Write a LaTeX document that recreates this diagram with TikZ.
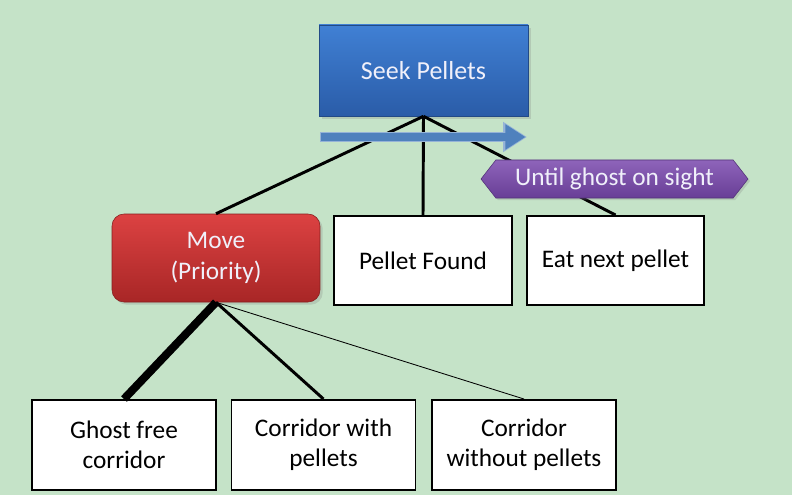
\documentclass[tikz,border=0pt]{standalone}
\usepackage{fontspec}
\setmainfont{Carlito}
\usepackage{tikz}
\usetikzlibrary{arrows.meta, shapes.symbols, shadows}
\definecolor{bgGreen}{RGB}{197,227,200}
\definecolor{seekTop}{RGB}{64,128,212}
\definecolor{seekBot}{RGB}{42,92,168}
\definecolor{moveTop}{RGB}{220,66,66}
\definecolor{moveBot}{RGB}{168,38,38}
\definecolor{untilTop}{RGB}{142,100,186}
\definecolor{untilBot}{RGB}{104,62,150}
\definecolor{arrowBlue}{RGB}{79,129,189}
\definecolor{lightText}{RGB}{240,240,250}
\tikzset{
  leaf/.style={
    rectangle, minimum width=4.6cm, minimum height=2.25cm,
    text centered, align=center, draw=black, line width=1.4pt, fill=white,
    font=\fontsize{18}{21.5}\selectfont
  },
  rootbox/.style={
    rectangle, minimum width=5.225cm, minimum height=2.275cm,
    text centered, draw=seekBot!80!black, line width=0.4pt,
    top color=seekTop, bottom color=seekBot, text=lightText,
    font=\fontsize{18.5}{22}\selectfont,
    drop shadow={shadow xshift=0.4ex,shadow yshift=-0.4ex,opacity=0.25}
  },
  prio/.style={
    rectangle, rounded corners=0.3cm, minimum width=5.2cm, minimum height=2.2cm,
    text centered, align=center, draw=moveBot!80!black, line width=0.4pt,
    top color=moveTop, bottom color=moveBot, text=lightText,
    font=\fontsize{18}{22}\selectfont,
    drop shadow={shadow xshift=0.4ex,shadow yshift=-0.4ex,opacity=0.25}
  },
  cond/.style={
    signal, signal to=west and east, signal pointer angle=104,
    minimum width=6.675cm, minimum height=0.95cm, inner sep=1pt,
    draw=untilBot!80!black, line width=0.4pt,
    top color=untilTop, bottom color=untilBot, text=lightText,
    font=\fontsize{18}{21}\selectfont,
    drop shadow={shadow xshift=0.3ex,shadow yshift=-0.3ex,opacity=0.25}
  },
  link/.style={line width=2.1pt, color=black}
}

\begin{document}
\begin{tikzpicture}
\fill[bgGreen] (0,0) rectangle (19.8,12.375);
\useasboundingbox (0,0) rectangle (19.8,12.375);

% root and children
\node[rootbox] (seek) at (10.5875,10.6125) {Seek Pellets};
\node[prio] (move) at (5.4,5.925) {Move\\(Priority)};
\node[leaf, minimum width=4.45cm, minimum height=2.225cm] (found) at (10.575,5.8625) {Pellet Found};
\node[leaf, minimum width=4.425cm, minimum height=2.225cm] (eat) at (15.3875,5.8625) {Eat next pellet};

% corridors
\node[leaf] (ghostfree) at (3.1,1.25) {Ghost free\\corridor};
\node[leaf] (withpel) at (8.0875,1.25) {Corridor with\\pellets};
\node[leaf] (withoutpel) at (13.1,1.25) {Corridor\\without pellets};

% links
\draw[link] (seek.south) -- (move.north);
\draw[link] (seek.south) -- (found.north);
\draw[link] (seek.south) -- (eat.north);
\draw[link, line width=5.7pt] (move.south) -- (ghostfree.north);
\draw[link] (move.south) -- (withpel.north);
\draw[link, line width=0.6pt] (move.south) -- (withoutpel.north);

% sequence arrow
\coordinate (seqstart) at (8.0,8.95);
\coordinate (seqend) at (13.175,8.95);
\draw[line width=0.26cm, color=arrowBlue!60!white, -{Triangle[length=0.6cm, width=0.72cm]}] (seqstart) -- (seqend);
\draw[line width=0.18cm, color=arrowBlue, shorten >=0.04cm, -{Triangle[length=0.5cm, width=0.6cm]}] ([xshift=0.03cm]seqstart) -- (seqend);

\node[cond] (until) at (15.3625,7.9) {Until ghost on sight};
\end{tikzpicture}
\end{document}
